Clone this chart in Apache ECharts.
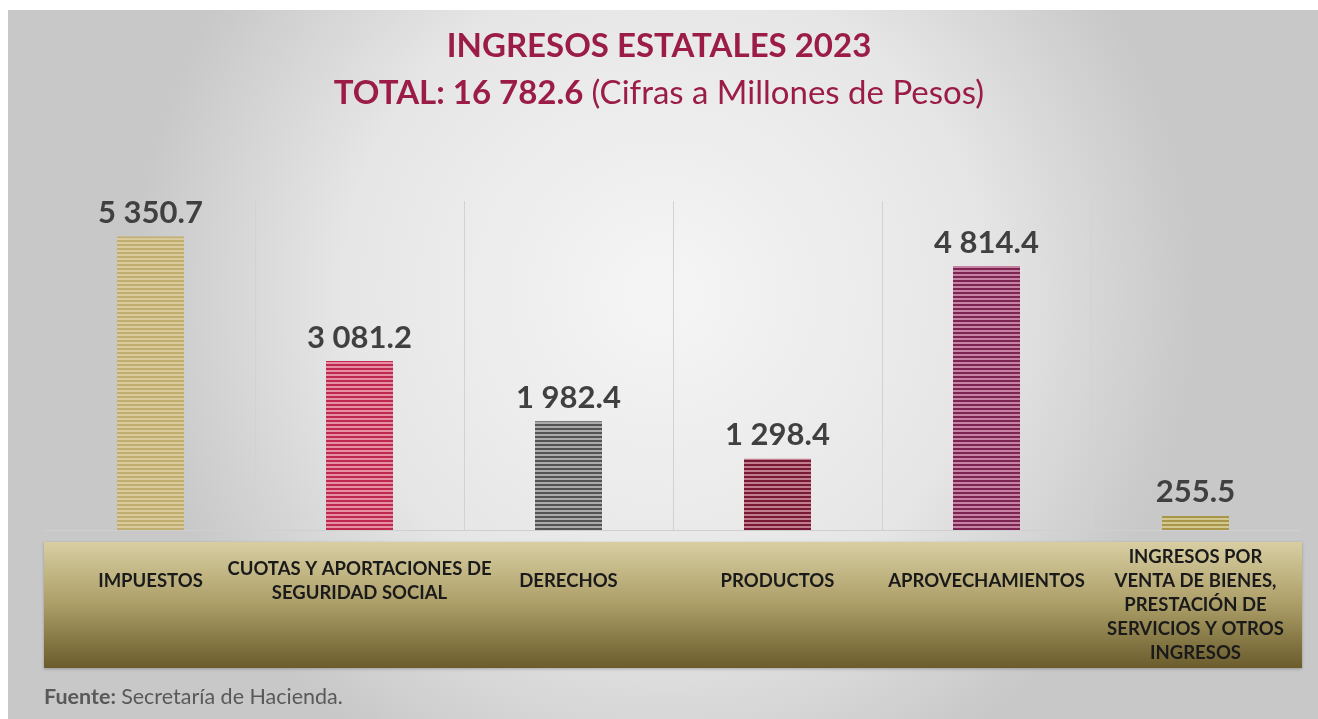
<!DOCTYPE html>
<html>
<head>
<meta charset="utf-8">
<script src="https://cdn.jsdelivr.net/npm/echarts@6/dist/echarts.min.js"></script>
<style>
html,body{margin:0;padding:0;background:#ffffff;}
#main{width:1318px;height:719px;}
</style>
</head>
<body>
<div id="main"></div>
<script>
// ---- data ----
const categories = [
  'IMPUESTOS',
  'CUOTAS Y APORTACIONES DE\nSEGURIDAD SOCIAL',
  'DERECHOS',
  'PRODUCTOS',
  'APROVECHAMIENTOS',
  'INGRESOS POR\nVENTA DE BIENES,\nPRESTACIÓN DE\nSERVICIOS Y OTROS\nINGRESOS'
];
const values = [5350.7, 3081.2, 1982.4, 1298.4, 4814.4, 255.5];
const stripeDark  = ['#c0ad70', '#c0294f', '#545454', '#781a35', '#7c2452', '#a8964a'];
const stripeLight = ['#d9cb9c', '#e590a5', '#ababab', '#c27d8d', '#c582a2', '#d3c890'];
const titleLine1 = 'INGRESOS ESTATALES 2023';
const titleTotal = 'TOTAL: 16 782.6';
const titleNote = '(Cifras a Millones de Pesos)';

function stripes(dark, light) {
  const c = document.createElement('canvas');
  c.width = 4; c.height = 4;
  const g = c.getContext('2d');
  g.fillStyle = light; g.fillRect(0, 0, 4, 4);
  g.fillStyle = dark; g.fillRect(0, 0, 4, 2);
  return { image: c, repeat: 'repeat' };
}
function fmt(v) {
  const parts = v.toFixed(1).split('.');
  return parts[0].replace(/\B(?=(\d{3})+(?!\d))/g, ' ') + '.' + parts[1];
}

const FONT = 'Lato, "Open Sans", sans-serif';
const chart = echarts.init(document.getElementById('main'));
const barData = values.map((v, i) => ({
  value: v,
  itemStyle: { color: stripes(stripeDark[i], stripeLight[i]) }
}));

chart.setOption({
  backgroundColor: 'transparent',
  textStyle: { fontFamily: FONT },
  graphic: [
    {
      type: 'rect', z: -10, silent: true,
      shape: { x: 8, y: 10, width: 1310, height: 709 },
      style: {
        fill: {
          type: 'radial', x: 0.5, y: 0.4, r: 0.75,
          colorStops: [
            { offset: 0, color: '#f5f5f5' },
            { offset: 0.6, color: '#e6e6e6' },
            { offset: 1, color: '#c8c8c8' }
          ]
        }
      }
    },
    {
      type: 'rect', z: -5, silent: true,
      shape: { x: 44, y: 542, width: 1258, height: 126 },
      style: {
        fill: {
          type: 'linear', x: 0, y: 0, x2: 0, y2: 1,
          colorStops: [
            { offset: 0, color: '#d8cea2' },
            { offset: 0.5, color: '#ab9d66' },
            { offset: 1, color: '#6a5c2c' }
          ]
        },
        shadowBlur: 3, shadowColor: 'rgba(0,0,0,0.25)', shadowOffsetY: 1
      }
    }
  ],
  title: [
    {
      left: 'center', top: 23, padding: 0,
      text: '{a|' + titleLine1 + '}\n{b|' + titleTotal + ' }{c|' + titleNote + '}',
      textStyle: {
        rich: {
          a: { fontFamily: FONT, fontSize: 33, fontWeight: 'bold', color: '#9b1c46', lineHeight: 47, align: 'center' },
          b: { fontFamily: FONT, fontSize: 33, fontWeight: 'bold', color: '#9b1c46', lineHeight: 47 },
          c: { fontFamily: FONT, fontSize: 33, fontWeight: 'normal', color: '#9b1c46', lineHeight: 47 }
        }
      }
    },
    {
      left: 44, top: 686, padding: 0,
      text: '{b|Fuente: }{n|Secretaría de Hacienda.}',
      textStyle: {
        fontWeight: 'normal',
        rich: {
          b: { fontFamily: FONT, fontSize: 21.5, fontWeight: 'bold', color: '#595959' },
          n: { fontFamily: FONT, fontSize: 21.5, fontWeight: 'normal', color: '#595959' }
        }
      }
    }
  ],
  grid: { left: 46, right: 18, top: 201, bottom: 189, containLabel: false, outerBoundsMode: 'none' },
  xAxis: {
    type: 'category',
    data: categories,
    boundaryGap: true,
    axisLine: { show: true, lineStyle: { color: '#cfcfcf', width: 1 } },
    axisTick: { show: false },
    splitLine: { show: true, showMinLine: false, showMaxLine: false, lineStyle: { color: '#d2d2d2', width: 1 } },
    axisLabel: {
      interval: 0,
      margin: 51,
      verticalAlign: 'middle',
      align: 'center',
      fontFamily: FONT,
      fontSize: 18.5,
      fontWeight: 'bold',
      color: '#1a1a1a',
      lineHeight: 24,
      hideOverlap: false,
      formatter: (v, i) => (i === categories.length - 1 ? '\n\n' + v : v)
    }
  },
  yAxis: {
    type: 'value', min: 0, max: 6000, interval: 1000,
    show: false,
    splitLine: { show: false }
  },
  series: [{
    type: 'bar',
    data: barData,
    barWidth: 67,
    label: {
      show: true, position: 'top', distance: 8,
      formatter: p => fmt(p.value),
      fontFamily: FONT, fontSize: 31, fontWeight: 'bold', color: '#404040'
    },
    animation: false
  }],
  animation: false
});
</script>
</body>
</html>
